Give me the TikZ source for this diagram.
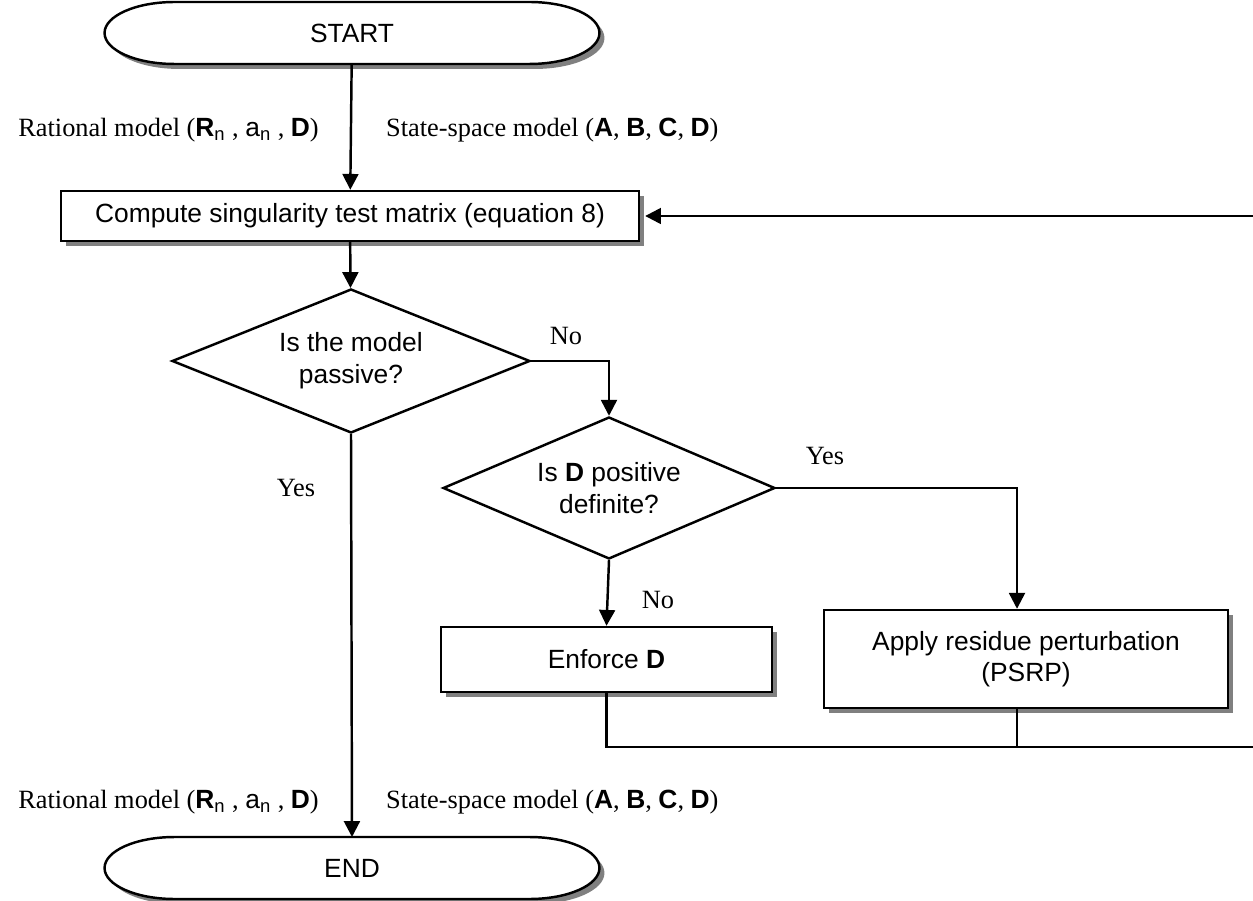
\documentclass[tikz,border=0pt]{standalone}
\usepackage{fontspec}
\setmainfont{Liberation Serif}
\setsansfont{Liberation Sans}
\usetikzlibrary{shapes.geometric,arrows.meta,shadows,positioning}

\pgfdeclarelayer{bg}
\pgfsetlayers{bg,main}

\newcommand{\bmat}[1]{\textsf{\bfseries #1}}
\newcommand{\subn}{\textsubscript{\sffamily n}}

\tikzset{
  boxshadow/.style={drop shadow={shadow xshift=0.1cm,shadow yshift=-0.1cm,fill=black!50,opacity=1}},
  procbox/.style={draw,fill=white,boxshadow,inner sep=0pt,align=center,
    font=\sffamily\fontsize{15}{18}\selectfont},
  decision/.style={draw,diamond,fill=white,inner sep=0pt,align=center,
    font=\sffamily\fontsize{15}{18}\selectfont},
  termtext/.style={inner sep=0pt,outer sep=0pt,minimum width=7.1cm,minimum height=1.24cm,
    font=\sffamily\fontsize{15}{18}\selectfont},
  note/.style={inner sep=0pt,font=\fontsize{15}{18}\selectfont},
  every path/.append style={line width=1.4pt}
}

\begin{document}
\begin{tikzpicture}[x=0.02cm,y=-0.02cm,>={Triangle[length=9pt,width=9pt]}]

    \useasboundingbox (0,0) rectangle (1253,901);

    \node[termtext] (start) at (352,33) {START};
    \node[termtext] (stop) at (352,868) {END};

    \node[procbox,minimum width=11.56cm,minimum height=1cm] (compute) at (350,216)
        {Compute singularity test matrix (equation 8)};
    \node[decision,shape aspect=2.5,minimum width=7.16cm,minimum height=2.88cm] (passive) at (351,361)
        {Is the model\\passive?};
    \node[decision,shape aspect=2.34,minimum width=6.64cm,minimum height=2.84cm] (posdef) at (609,488)
        {Is \bmat{D} positive\\definite?};
    \node[procbox,minimum width=6.62cm,minimum height=1.3cm] (enforce) at (606.5,659.5)
        {Enforce \bmat{D}};
    \node[procbox,minimum width=8.08cm,minimum height=1.96cm] (perturb) at (1026,659)
        {Apply residue perturbation\\(PSRP)};

    % rounded ends of START / END
    \begin{pgfonlayer}{bg}
    \fill[white] (0,0) rectangle (1253,901);
    \foreach \t in {start,stop}
        \draw[fill=white,boxshadow] (\t.north west) -- (\t.north east)
            arc[start angle=90,end angle=-90,x radius=1.4cm,y radius=0.62cm]
            -- (\t.south west)
            arc[start angle=270,end angle=90,x radius=1.4cm,y radius=0.62cm] -- cycle;
    \end{pgfonlayer}

    % model labels
    \node[note,anchor=east] (ratin) at (320,130) {Rational model (\bmat{R}\subn{} , \textsf{a}\subn{} , \bmat{D})};
    \node[note,anchor=west] (ssin) at (385,130) {State-space model (\bmat{A}, \bmat{B}, \bmat{C}, \bmat{D})};
    \node[note,anchor=east] (ratout) at (320,802) {Rational model (\bmat{R}\subn{} , \textsf{a}\subn{} , \bmat{D})};
    \node[note,anchor=west] (ssout) at (385,802) {State-space model (\bmat{A}, \bmat{B}, \bmat{C}, \bmat{D})};

    % branch labels
    \node[note] (nopas) at (566,336) {No};
    \node[note] (yespas) at (296,488) {Yes};
    \node[note] (yesdef) at (825,456) {Yes};
    \node[note] (nodef) at (658,600) {No};

    \coordinate (loopin) at (1253,216);
    \coordinate (loopout) at (1253,747);

    \draw[->] (start) -- (compute);
    \draw[->] (compute) -- (passive);
    \draw[->] (passive.east) -| (posdef.north);
    \draw[->] (posdef.east) -| ([xshift=-0.18cm]perturb.north);
    \draw[->] (posdef.south) -- (enforce.north);
    \draw[->] (passive.south) -- (stop.north);

    \draw (enforce.south) |- (loopout);
    \draw ([xshift=-0.18cm]perturb.south) -- ([xshift=-0.18cm]perturb.south |- loopout);
    \draw[->] (loopin) -- ([xshift=0.1cm]compute.east);

\end{tikzpicture}
\end{document}
